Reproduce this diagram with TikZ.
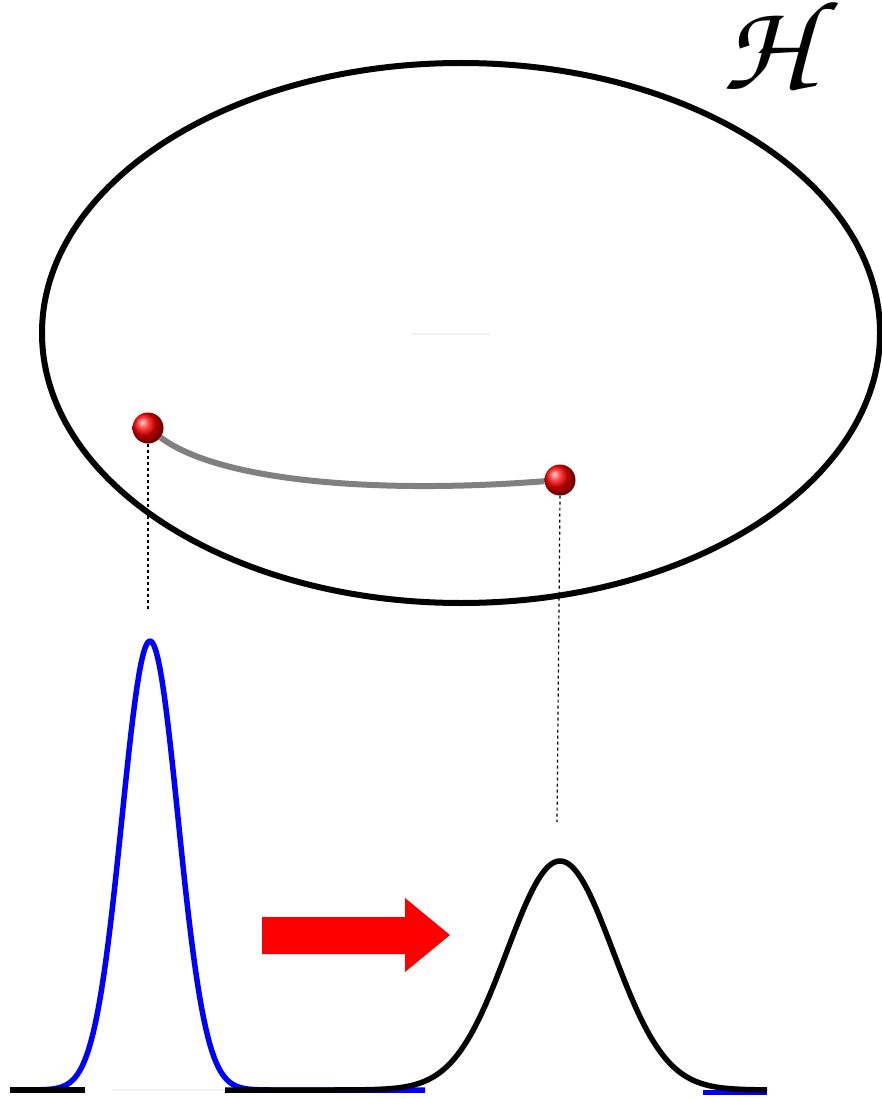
\documentclass[tikz,border=0pt]{standalone}
\usepackage[T1,TU]{fontenc}
\usetikzlibrary{arrows.meta,positioning,calc}
\definecolor{hilb}{RGB}{0,0,0}
\definecolor{pathgray}{RGB}{128,128,128}
\definecolor{wideblue}{RGB}{0,0,255}
\definecolor{pushred}{RGB}{255,0,0}
\tikzset{ball/.style={circle,inner sep=0pt,minimum size=31,ball color=pushred,draw=none},
  drop/.style={dash pattern=on 3pt off 3pt,line width=1.2,black},
  curve/.style={line width=5.5,line join=round},
  spacename/.style={font=\fontencoding{T1}\fontfamily{pzc}\fontseries{mb}\fontshape{it}\fontsize{128}{128}\selectfont,
    inner sep=0pt,text height=82,text depth=4,anchor=base}}

\begin{document}
\begin{tikzpicture}[x=1pt,y=-1pt]
\useasboundingbox (0,0) rectangle (882,1099);
\draw[hilb,line width=6] (461,333) ellipse[x radius=419,y radius=270];
\node[spacename] (H) at (766,90) {H};
\draw[gray!12,line width=2] (412,334)--(490,334);
% the two states and the path between them
\node[ball] (p) at (148,428) {};
\node[ball] (q) at (560,480) {};
\draw[pathgray,line width=6] (p) .. controls (220,482) and (380,494) .. (q);
\coordinate (pfoot) at (148,610);
\coordinate (qfoot) at (557,822);
\draw[drop] (p.south)--(pfoot);
\draw[drop] (q.south)--(qfoot);
% densities
\draw[gray!10,line width=2] (112,1090)--(225,1090);
\draw[wideblue,curve] plot[domain=10:425,samples=200] (\x,{1090-449*exp(-0.5*((\x-150)/28)^2)});
\draw[wideblue,line width=5] (703,1092)--(767,1092);
\draw[black,line width=5.5] (10,1090)--(85,1090);
\draw[black,curve] plot[domain=225:767,samples=200] (\x,{1090-229*exp(-0.5*((\x-560)/53)^2)});
\fill[pushred] (262,917)--(405,917)--(405,898)--(450,935)--(405,972)--(405,954)--(262,954)--cycle;
\end{tikzpicture}
\end{document}
